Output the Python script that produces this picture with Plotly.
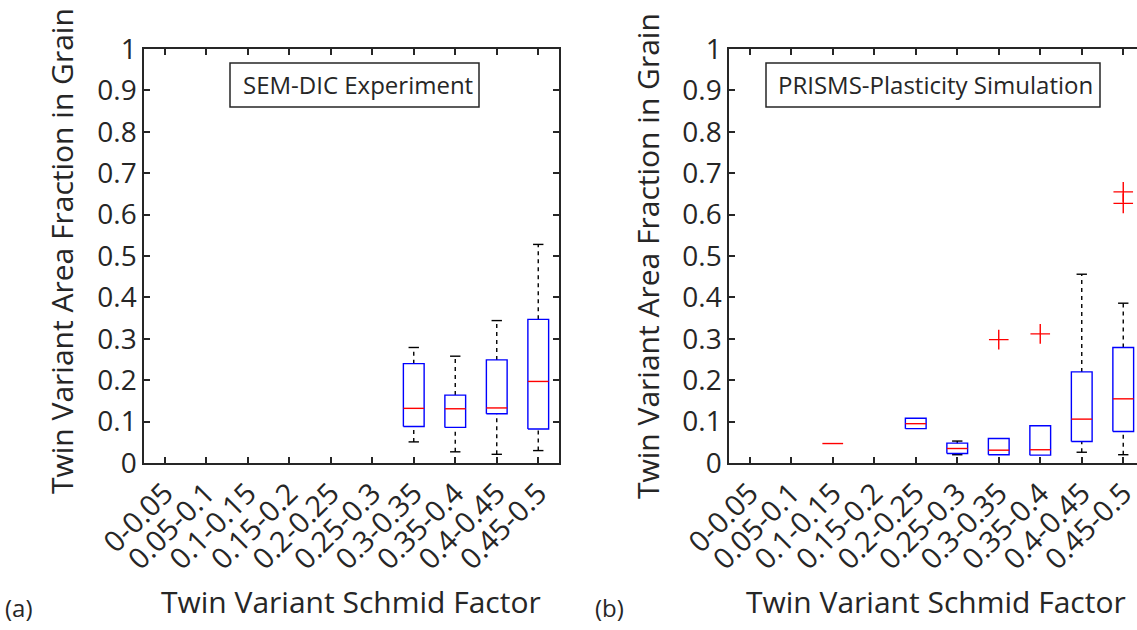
import plotly.graph_objects as go

categories = ["0-0.05", "0.05-0.1", "0.1-0.15", "0.15-0.2", "0.2-0.25",
              "0.25-0.3", "0.3-0.35", "0.35-0.4", "0.4-0.45", "0.45-0.5"]
y_ticks = [0, 0.1, 0.2, 0.3, 0.4, 0.5, 0.6, 0.7, 0.8, 0.9, 1]
y_ticktext = ["0", "0.1", "0.2", "0.3", "0.4", "0.5", "0.6", "0.7", "0.8", "0.9", "1"]

# (a) SEM-DIC Experiment: box statistics per Schmid-factor bin (1-based bin index)
exp_pos = [7, 8, 9, 10]
exp_lo = [0.051, 0.027, 0.021, 0.030]
exp_q1 = [0.088, 0.086, 0.119, 0.082]
exp_med = [0.132, 0.131, 0.133, 0.197]
exp_q3 = [0.240, 0.164, 0.249, 0.347]
exp_hi = [0.279, 0.258, 0.344, 0.528]
exp_out_pos = []
exp_out_val = []

# (b) PRISMS-Plasticity Simulation
sim_pos = [3, 5, 6, 7, 8, 9, 10]
sim_lo = [0.047, 0.083, 0.020, 0.020, 0.019, 0.026, 0.020]
sim_q1 = [0.047, 0.083, 0.023, 0.020, 0.019, 0.052, 0.076]
sim_med = [0.047, 0.095, 0.035, 0.031, 0.032, 0.106, 0.155]
sim_q3 = [0.047, 0.108, 0.048, 0.059, 0.090, 0.220, 0.279]
sim_hi = [0.047, 0.108, 0.053, 0.059, 0.090, 0.456, 0.386]
sim_out_pos = [7, 8, 10, 10]
sim_out_val = [0.298, 0.312, 0.655, 0.627]

W, H = 1137, 630
TXT = "#262626"
FONT = "Open Sans"
HALF = 0.25
CAP = 0.125


def px(x):
    return x / W


def py(y):
    return 1 - y / H


def box_traces(pos, lo, q1, med, q3, hi, opos, oval, xa, ya):
    wx, wy, cx, cy, bx, by, mx, my = [], [], [], [], [], [], [], []
    for p, a, b, m, c, d in zip(pos, lo, q1, med, q3, hi):
        if d > c:
            wx += [p, p, None]
            wy += [c, d, None]
            cx += [p - CAP, p + CAP, None]
            cy += [d, d, None]
        if a < b:
            wx += [p, p, None]
            wy += [a, b, None]
            cx += [p - CAP, p + CAP, None]
            cy += [a, a, None]
        if c > b:
            bx += [p - HALF, p + HALF, p + HALF, p - HALF, p - HALF, None]
            by += [b, b, c, c, b, None]
        mx += [p - HALF, p + HALF, None]
        my += [m, m, None]
    tr = [
        go.Scatter(x=wx, y=wy, mode="lines", xaxis=xa, yaxis=ya,
                   line=dict(color="black", width=1.4, dash="4px,4px"), hoverinfo="skip"),
        go.Scatter(x=cx, y=cy, mode="lines", xaxis=xa, yaxis=ya,
                   line=dict(color="black", width=1.4), hoverinfo="skip"),
        go.Scatter(x=bx, y=by, mode="lines", xaxis=xa, yaxis=ya,
                   line=dict(color="#0000ff", width=1.4), hoverinfo="skip"),
        go.Scatter(x=mx, y=my, mode="lines", xaxis=xa, yaxis=ya,
                   line=dict(color="#ff0000", width=1.4), hoverinfo="skip"),
    ]
    if opos:
        tr.append(go.Scatter(x=opos, y=oval, mode="markers", xaxis=xa, yaxis=ya,
                             marker=dict(symbol="cross-thin", size=14,
                                         line=dict(color="#ff0000", width=1.4)),
                             hoverinfo="skip"))
    return tr


fig = go.Figure()
for t in box_traces(exp_pos, exp_lo, exp_q1, exp_med, exp_q3, exp_hi,
                    exp_out_pos, exp_out_val, "x", "y"):
    fig.add_trace(t)
for t in box_traces(sim_pos, sim_lo, sim_q1, sim_med, sim_q3, sim_hi,
                    sim_out_pos, sim_out_val, "x2", "y2"):
    fig.add_trace(t)

xcommon = dict(tickvals=list(range(1, 11)), ticktext=categories, tickangle=-45,
               ticks="inside", ticklen=6, tickwidth=1.5, tickcolor=TXT,
               showline=True, linecolor=TXT, linewidth=1.5, showgrid=False,
               zeroline=False, tickfont=dict(size=29, color=TXT, family=FONT),
               ticklabeloverflow="allow",
               automargin=False, fixedrange=True)
ycommon = dict(range=[0, 1], tickvals=y_ticks, ticktext=y_ticktext,
               ticks="inside", ticklen=6, tickwidth=1.5, tickcolor=TXT,
               showline=True, linecolor=TXT, linewidth=1.5, showgrid=False,
               zeroline=False, tickfont=dict(size=28, color=TXT, family=FONT),
               automargin=False, fixedrange=True)

x_dom_a = [px(144), px(559)]
x_dom_b = [px(729), 1.0]
y_dom = [py(463), py(49)]
xr_b_end = 0.5 + (W - 729) / ((559 - 144) / 10.0)

fig.update_layout(
    width=W, height=H, margin=dict(l=0, r=0, t=0, b=0),
    paper_bgcolor="white", plot_bgcolor="white", showlegend=False,
    font=dict(family=FONT, color=TXT),
    xaxis=dict(domain=x_dom_a, range=[0.5, 10.5], mirror="ticks", anchor="y", **xcommon),
    yaxis=dict(domain=y_dom, mirror="ticks", anchor="x", **ycommon),
    xaxis2=dict(domain=x_dom_b, range=[0.5, xr_b_end], mirror="ticks", anchor="y2", **xcommon),
    yaxis2=dict(domain=y_dom, mirror=False, anchor="x2", **ycommon),
)

shapes = [
    dict(type="rect", xref="paper", yref="paper", x0=px(230), x1=px(479),
         y0=py(107), y1=py(63), line=dict(color=TXT, width=1.5)),
    dict(type="rect", xref="paper", yref="paper", x0=px(766), x1=px(1100),
         y0=py(107), y1=py(63), line=dict(color=TXT, width=1.5)),
]
fig.update_layout(shapes=shapes)

ann = [
    dict(text="SEM-DIC Experiment", x=px(358), y=py(85), size=24),
    dict(text="PRISMS-Plasticity Simulation", x=px(935), y=py(85), size=24),
    dict(text="Twin Variant Area Fraction in Grain", x=px(62), y=py(251), size=30, angle=-90),
    dict(text="Twin Variant Area Fraction in Grain", x=px(647), y=py(256), size=30, angle=-90),
    dict(text="Twin Variant Schmid Factor", x=px(351), y=py(601), size=30),
    dict(text="Twin Variant Schmid Factor", x=px(936), y=py(601), size=30),
    dict(text="(a)", x=px(19), y=py(607), size=24),
    dict(text="(b)", x=px(609), y=py(607), size=24),
]
for a in ann:
    fig.add_annotation(text=a["text"], x=a["x"], y=a["y"], xref="paper", yref="paper",
                       xanchor="center", yanchor="middle", showarrow=False,
                       textangle=a.get("angle", 0),
                       font=dict(size=a["size"], color=TXT, family=FONT))

fig.write_html("out.html")
